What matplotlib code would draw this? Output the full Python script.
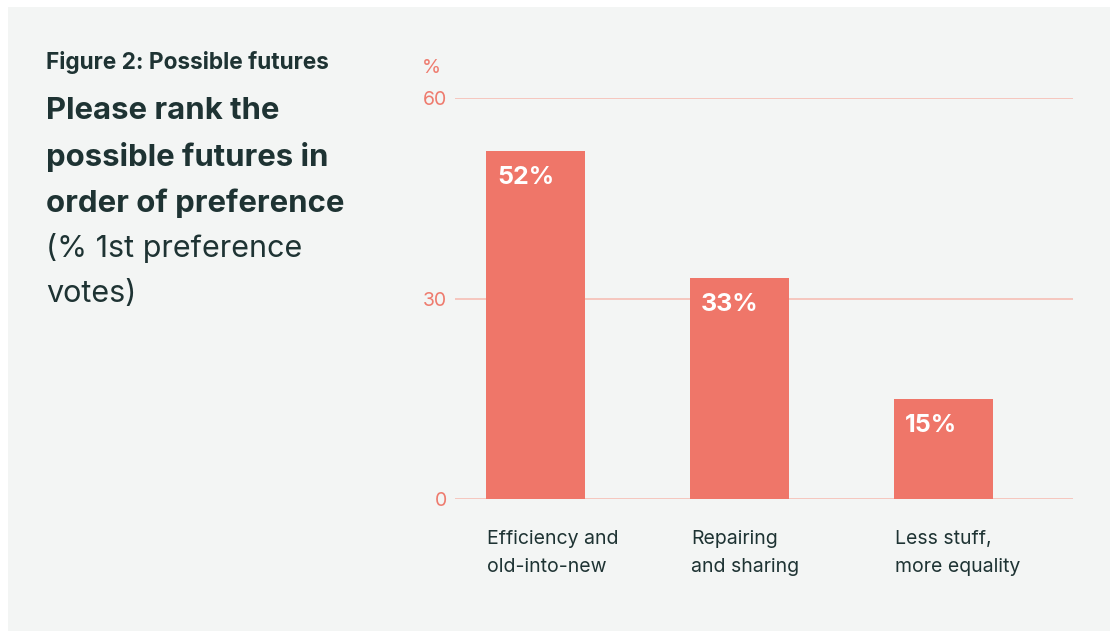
import matplotlib
matplotlib.use('Agg')
import matplotlib.pyplot as plt
import matplotlib.patches as patches
import numpy as np

plt.rcParams['font.family'] = ['Inter', 'DejaVu Sans']

# data
categories = ['Efficiency and\nold-into-new', 'Repairing\nand sharing', 'Less stuff,\nmore equality']
values = [52, 33, 15]
value_labels = ['52%', '33%', '15%']
yticks = [0, 30, 60]

bar_color = '#EF7669'
grid_color = '#F6C3BA'
bg_color = '#F3F5F4'
text_dark = '#1E3333'
tick_color = '#EE7B6E'

W, H = 1116, 631
fig = plt.figure(figsize=(W / 100, H / 100), dpi=100)
fig.patch.set_facecolor('white')

# grey panel
fig.patches.append(patches.Rectangle((8 / W, 0), (1110 - 8) / W, (H - 7) / H,
                                     transform=fig.transFigure, facecolor=bg_color,
                                     edgecolor='none', zorder=-10))

# axes: x 455..1073 px, y0 at 499 px, y60 at 98 px
ax = fig.add_axes([455 / W, (H - 499) / H, (1073 - 455) / W, (499 - 98) / H])
ax.set_zorder(5)
ax.set_facecolor('none')
x = np.arange(len(values))
ax.bar(x, values, width=0.485, color=bar_color, zorder=2)
ax.set_xlim(-0.395, 2.635)
ax.set_ylim(0, 60)

for y in yticks:
    ax.axhline(y, color=grid_color, linewidth=1.3, zorder=1)

for s in ax.spines.values():
    s.set_visible(False)
ax.set_xticks([])
ax.set_yticks(yticks)
ax.set_yticklabels([str(t) for t in yticks], color=tick_color, fontsize=14)
ax.tick_params(axis='y', length=0, pad=6)

# value labels inside bars
for xi, v, lab in zip(x, values, value_labels):
    ax.annotate(lab, (xi - 0.2425, v), xytext=(11, -15), textcoords='offset pixels',
                ha='left', va='top', color='white', fontsize=18, fontweight='bold')

# category labels
for xi, cat in zip(x, categories):
    ax.annotate(cat, (xi - 0.2425, 0), xytext=(1, -31), textcoords='offset pixels',
                ha='left', va='top', color=text_dark, fontsize=14, linespacing=1.75,
                annotation_clip=False)

# "%" unit label
fig.text(422 / W, 1 - 68 / H, '%', color=tick_color, fontsize=14, ha='left', va='center')

# left titles
fig.text(46 / W, 1 - 62 / H, 'Figure 2: Possible futures', color=text_dark,
         fontsize=16.3, fontweight='bold', ha='left', va='center')
bold_lines = ['Please rank the', 'possible futures in', 'order of preference']
for i, line in enumerate(bold_lines):
    fig.text(46 / W, 1 - (111 + 46 * i) / H, line, color=text_dark,
             fontsize=22.4, fontweight='bold', ha='left', va='center')
reg_lines = ['(% 1st preference', 'votes)']
for i, line in enumerate(reg_lines):
    fig.text(46 / W, 1 - (248 + 46 * i) / H, line, color=text_dark,
             fontsize=22, ha='left', va='center')

fig.savefig('out.png', dpi=100, facecolor=fig.get_facecolor())
